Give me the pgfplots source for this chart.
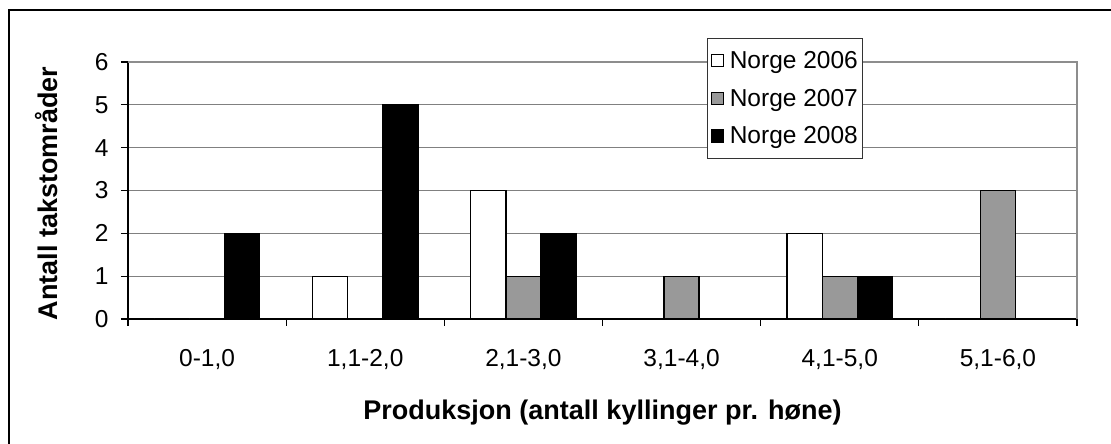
\documentclass[border=0pt]{standalone}
\usepackage{pgfplots}
\pgfplotsset{compat=1.18}
\usepackage{fontspec}
\setmainfont{Liberation Sans}
\definecolor{bargray}{RGB}{153,153,153}
\definecolor{gridgray}{RGB}{128,128,128}
\pgfplotstableread{
x y2006 y2007 y2008
0 0 0 2
1 1 0 5
2 3 1 2
3 0 1 0
4 2 1 1
5 0 3 0
}\datatable
\begin{document}
\begin{tikzpicture}
\useasboundingbox (0,0) rectangle (1111pt,444pt);
\fill[white] (0,0) rectangle (1111pt,444pt);
\draw[line width=2.6pt] (9pt,-20pt) -- (9pt,434pt) -- (1130pt,434pt);
\begin{axis}[
  at={(128pt,125pt)}, anchor=south west,
  scale only axis, width=949pt, height=257pt,
  xmin=-0.5, xmax=5.5, ymin=0, ymax=6,
  axis x line*=bottom, axis y line*=left,
  axis line style={line width=1.3pt, black},
  ybar=0pt, bar width=0.222,
  xtick={-0.5,0.5,...,5.5},
  x tick label as interval,
  xticklabels={{0-1,0},{1,1-2,0},{2,1-3,0},{3,1-4,0},{4,1-5,0},{5,1-6,0}},
  ytick={0,...,6},
  tick align=outside,
  major tick length=7pt,
  tick style={line width=1.2pt, black},
  ymajorgrids,
  major grid style={line width=1.1pt, gridgray},
  /pgf/number format/assume math mode=true,
  tick label style={font=\fontsize{24.5}{28}\selectfont},
  xticklabel style={yshift=-20pt},
  yticklabel style={xshift=-9pt},
  xlabel={Produksjon (antall kyllinger pr. høne)},
  ylabel={Antall takstområder},
  xlabel style={at={(rel axis cs:0.5,0)}, anchor=base, yshift=-101pt, font=\fontsize{27}{31}\selectfont\bfseries},
  ylabel style={at={([xshift=-70pt,yshift=-3pt]rel axis cs:0,0.5)}, anchor=base, font=\fontsize{27}{31}\selectfont\bfseries},
  legend style={at={(rel axis cs:0.6101,1.0934)}, anchor=north west,
    draw=black!80, line width=1.1pt, font=\fontsize{24.5}{28}\selectfont,
    inner xsep=3pt, inner ysep=11pt, row sep=15pt, cells={anchor=west}},
  legend image code/.code={\draw[#1, draw=black, line width=1.2pt] (0pt,-6pt) rectangle (12pt,6pt); \path (16pt,0pt);},
  clip=false,
]
\addplot[fill=white, draw=black, line width=1.3pt] table[x=x, y=y2006] {\datatable};
\addplot[fill=bargray, draw=black, line width=1.3pt] table[x=x, y=y2007] {\datatable};
\addplot[fill=black, draw=black, line width=1.3pt] table[x=x, y=y2008] {\datatable};
\legend{Norge 2006, Norge 2007, Norge 2008}
\draw[line width=1.6pt, gridgray!90] (rel axis cs:0,1) -- (rel axis cs:1,1) -- (rel axis cs:1,0);
\end{axis}
\end{tikzpicture}
\end{document}
